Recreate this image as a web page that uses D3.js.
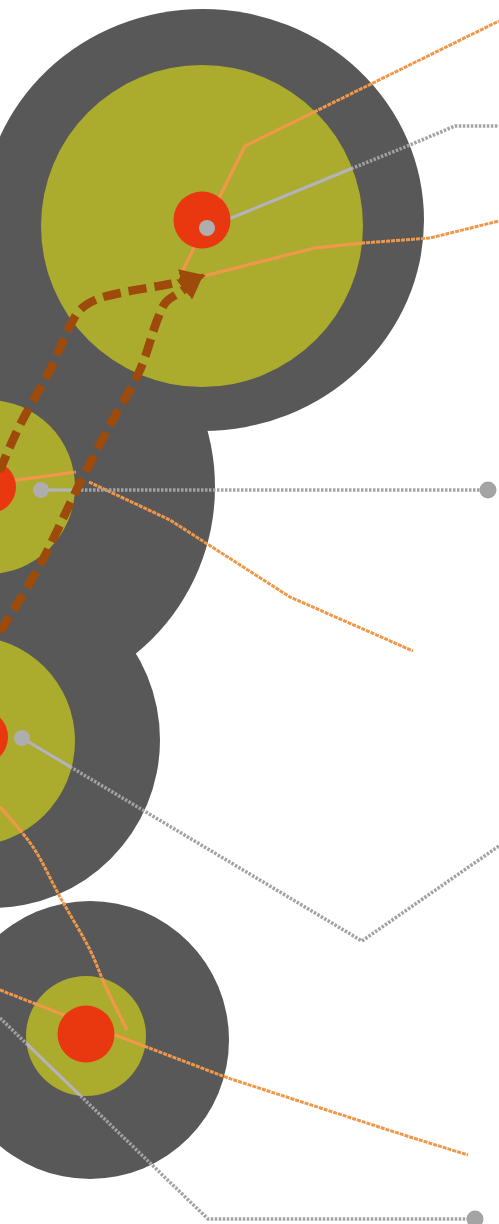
<!DOCTYPE html>
<html><head><meta charset="utf-8">
<script src="https://cdn.jsdelivr.net/npm/d3@7"></script>
<style>html,body{margin:0;padding:0;background:#fff;overflow:hidden}</style>
</head><body>
<svg id="c" width="499" height="1224"></svg>
<script>
// ---- data (chart units) ----
const nodes = ["N1","N2","N3","N4"];
const outerX = [203, 0, -8, 90];
const outerY = [220, 487, 740, 1040];
const outerRx = [221, 215, 168, 139];
const outerRy = [211, 215, 168, 139];
const midX = [202, -12, -30, 86];
const midY = [226, 487, 741, 1036];
const midR = [161, 87, 105, 60];
const coreX = [202, -10, -20, 86];
const coreY = [220, 487, 737, 1034];
const coreR = [28.5, 26, 28, 28.5];
const dotX = [207, 41, 22];
const dotY = [228, 490, 738];
const endDotX = [488, 475];
const endDotY = [490, 1219];

const orangeLines = [
  [[181,274],[245,146],[499,21]],
  [[200,277],[315,248],[363,243],[430,238],[499,221]],
  [[10,481],[76,472]],
  [[89,482],[170,520],[290,597],[413,651]],
  [[0,807],[33,847],[60,897],[90,950],[105,985],[127,1030]],
  [[0,990],[115,1035],[228,1078],[410,1137],[468,1155]]
];
const grayLines = [
  [[207,228],[353,168],[410,145],[455,126],[499,126]],
  [[41,490],[488,490]],
  [[22,738],[362,941],[499,846]],
  [[0,1018],[208,1219],[475,1219]]
];
const brownPaths = [
  [[-20,520],[0,470],[20,425],[50,370],[70,326],[80,310],[95,300],[120,293],[170,284],[196,278]],
  [[0,632],[40,565],[80,483],[110,425],[140,370],[158,318],[166,302],[182,291],[196,280]]
];

// ---- scales ----
const W = 499, H = 1224;
const x = d3.scaleLinear().domain([0, 499]).range([0, W]);
const y = d3.scaleLinear().domain([0, 1224]).range([0, H]);
const r = d3.scaleLinear().domain([0, 100]).range([0, 100]);

const svg = d3.select("#c");
const defs = svg.append("defs");
const clip = defs.append("clipPath").attr("id","olive");
clip.selectAll("circle").data(nodes).join("circle")
  .attr("cx",(d,i)=>x(midX[i])).attr("cy",(d,i)=>y(midY[i])).attr("r",(d,i)=>r(midR[i]));
defs.append("marker").attr("id","arr").attr("viewBox","0 0 10 10")
  .attr("refX",6).attr("refY",5).attr("markerWidth",3).attr("markerHeight",3)
  .attr("orient","auto").attr("markerUnits","strokeWidth")
  .append("path").attr("d","M0,0L10,5L0,10z").attr("fill","#9e4a0b");

const line = d3.line().x(d=>x(d[0])).y(d=>y(d[1]));
const curve = d3.line().x(d=>x(d[0])).y(d=>y(d[1])).curve(d3.curveCatmullRom.alpha(0.5));

const COL = {dark:"#585858", olive:"#abab2d", red:"#e9380f", dot:"#aeaeae",
  orange:"#ef984a", gray:"#a2a2a2", graySolid:"#b4b4b4", brown:"#9e4a0b"};

svg.append("g").selectAll("ellipse").data(nodes).join("ellipse")
  .attr("cx",(d,i)=>x(outerX[i])).attr("cy",(d,i)=>y(outerY[i]))
  .attr("rx",(d,i)=>r(outerRx[i])).attr("ry",(d,i)=>r(outerRy[i]))
  .attr("fill",COL.dark);
svg.append("g").selectAll("circle").data(nodes).join("circle")
  .attr("cx",(d,i)=>x(midX[i])).attr("cy",(d,i)=>y(midY[i])).attr("r",(d,i)=>r(midR[i]))
  .attr("fill",COL.olive);

// dashed outside, solid inside olive
const gl = svg.append("g");
gl.selectAll("path.od").data(orangeLines).join("path").attr("class","od")
  .attr("d",(d,i)=> i===4 ? curve(d) : line(d)).attr("fill","none")
  .attr("stroke",COL.orange).attr("stroke-width",3).attr("stroke-dasharray","4,1");
gl.selectAll("path.gd").data(grayLines).join("path").attr("class","gd")
  .attr("d",line).attr("fill","none")
  .attr("stroke",COL.gray).attr("stroke-width",3.5).attr("stroke-dasharray","2.5,1.5");
const gi = svg.append("g").attr("clip-path","url(#olive)");
gi.selectAll("path.os").data(orangeLines).join("path").attr("class","os")
  .attr("d",(d,i)=> i===4 ? curve(d) : line(d)).attr("fill","none")
  .attr("stroke",COL.orange).attr("stroke-width",3);
gi.selectAll("path.gs").data(grayLines).join("path").attr("class","gs")
  .attr("d",line).attr("fill","none")
  .attr("stroke",COL.graySolid).attr("stroke-width",3);

svg.append("g").selectAll("circle").data(nodes).join("circle")
  .attr("cx",(d,i)=>x(coreX[i])).attr("cy",(d,i)=>y(coreY[i])).attr("r",(d,i)=>r(coreR[i]))
  .attr("fill",COL.red);
svg.append("g").selectAll("circle").data(dotX).join("circle")
  .attr("cx",(d,i)=>x(dotX[i])).attr("cy",(d,i)=>y(dotY[i])).attr("r",8)
  .attr("fill",COL.dot);
svg.append("g").selectAll("circle").data(endDotX).join("circle")
  .attr("cx",(d,i)=>x(endDotX[i])).attr("cy",(d,i)=>y(endDotY[i])).attr("r",8.5)
  .attr("fill","#a4a4a4");

svg.append("g").selectAll("path").data(brownPaths).join("path")
  .attr("d",curve).attr("fill","none").attr("stroke",COL.brown)
  .attr("stroke-width",8.5).attr("stroke-dasharray","18,8")
  .attr("marker-end","url(#arr)");
</script>
</body></html>
